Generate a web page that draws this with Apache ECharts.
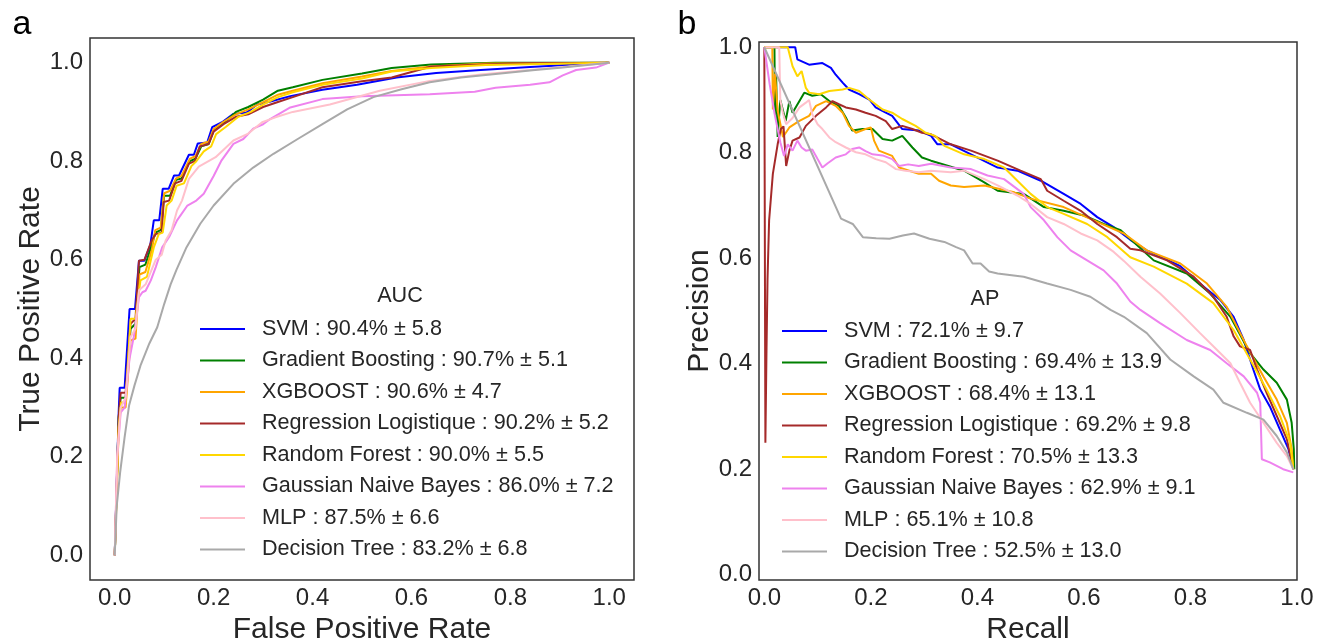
<!DOCTYPE html>
<html>
<head>
<meta charset="utf-8">
<script src="https://cdn.jsdelivr.net/npm/echarts@6/dist/echarts.min.js"></script>
<style>
  html, body { margin: 0; padding: 0; background: #fff; }
  #main { width: 1325px; height: 640px; }
</style>
</head>
<body>
<div id="main"></div>
<script>
// models, colours and scores shown in the two legends
var modelNames = ['SVM', 'Gradient Boosting', 'XGBOOST', 'Regression Logistique', 'Random Forest', 'Gaussian Naive Bayes', 'MLP', 'Decision Tree'];
var modelColors = ['#0000ff', '#008000', '#ffa500', '#a52a2a', '#ffd700', '#ee82ee', '#ffc0cb', '#a9a9a9'];
var aucMean = [90.4, 90.7, 90.6, 90.2, 90.0, 86.0, 87.5, 83.2];
var aucStd = [5.8, 5.1, 4.7, 5.2, 5.5, 7.2, 6.6, 6.8];
var apMean = [72.1, 69.4, 68.4, 69.2, 70.5, 62.9, 65.1, 52.5];
var apStd = [9.7, 13.9, 13.1, 9.8, 13.3, 9.1, 10.8, 13.0];
var tickValues = [0, 0.2, 0.4, 0.6, 0.8, 1.0];

// ROC curves : [false positive rate, true positive rate]
var rocSvm = [[0,0],[0.008,0.29],[0.01,0.34],[0.02,0.34],[0.03,0.5],[0.041,0.5],[0.049,0.598],[0.06,0.598],[0.072,0.63],[0.079,0.68],[0.09,0.68],[0.097,0.744],[0.109,0.744],[0.12,0.771],[0.13,0.771],[0.15,0.813],[0.16,0.813],[0.168,0.836],[0.187,0.838],[0.197,0.869],[0.217,0.879],[0.24,0.896],[0.267,0.899],[0.288,0.915],[0.315,0.921],[0.355,0.932],[0.42,0.945],[0.49,0.955],[0.57,0.97],[0.65,0.979],[0.74,0.985],[0.84,0.991],[1,1]];
var rocGb = [[0,0],[0.008,0.28],[0.012,0.32],[0.022,0.32],[0.032,0.46],[0.042,0.47],[0.05,0.585],[0.062,0.59],[0.075,0.63],[0.082,0.655],[0.093,0.66],[0.1,0.73],[0.112,0.73],[0.124,0.762],[0.135,0.765],[0.152,0.8],[0.163,0.805],[0.175,0.83],[0.19,0.835],[0.2,0.862],[0.22,0.877],[0.245,0.9],[0.27,0.91],[0.3,0.925],[0.33,0.943],[0.36,0.95],[0.42,0.965],[0.5,0.978],[0.56,0.989],[0.64,0.996],[0.77,1],[1,1]];
var rocXgb = [[0,0],[0.008,0.26],[0.012,0.3],[0.022,0.3],[0.032,0.436],[0.042,0.44],[0.05,0.57],[0.062,0.575],[0.075,0.62],[0.082,0.66],[0.093,0.665],[0.1,0.735],[0.112,0.74],[0.124,0.765],[0.135,0.77],[0.152,0.805],[0.163,0.81],[0.175,0.835],[0.19,0.84],[0.2,0.865],[0.22,0.88],[0.245,0.895],[0.27,0.905],[0.3,0.92],[0.33,0.935],[0.36,0.943],[0.42,0.958],[0.5,0.972],[0.56,0.983],[0.64,0.992],[0.75,0.998],[1,1]];
var rocRl = [[0,0],[0.008,0.28],[0.012,0.33],[0.022,0.33],[0.032,0.47],[0.042,0.48],[0.049,0.598],[0.06,0.6],[0.075,0.64],[0.083,0.652],[0.095,0.655],[0.099,0.717],[0.11,0.72],[0.122,0.755],[0.135,0.76],[0.15,0.795],[0.162,0.8],[0.172,0.83],[0.19,0.835],[0.2,0.86],[0.22,0.875],[0.245,0.89],[0.27,0.895],[0.3,0.91],[0.33,0.92],[0.36,0.93],[0.42,0.95],[0.5,0.962],[0.56,0.97],[0.64,0.992],[0.8,0.998],[1,1]];
var rocRf = [[0,0],[0.008,0.26],[0.013,0.31],[0.022,0.31],[0.032,0.48],[0.042,0.48],[0.052,0.558],[0.065,0.565],[0.079,0.625],[0.089,0.652],[0.097,0.655],[0.105,0.71],[0.115,0.72],[0.125,0.75],[0.14,0.755],[0.155,0.79],[0.165,0.8],[0.18,0.82],[0.195,0.83],[0.205,0.855],[0.225,0.87],[0.25,0.89],[0.275,0.9],[0.3,0.915],[0.33,0.93],[0.36,0.94],[0.42,0.955],[0.5,0.968],[0.56,0.982],[0.64,0.989],[0.75,0.995],[1,1]];
var rocGnb = [[0,0],[0.005,0.2],[0.012,0.29],[0.02,0.3],[0.03,0.4],[0.039,0.446],[0.049,0.524],[0.056,0.534],[0.0625,0.537],[0.073,0.558],[0.083,0.585],[0.096,0.625],[0.11,0.646],[0.126,0.68],[0.147,0.71],[0.165,0.72],[0.18,0.734],[0.2,0.77],[0.215,0.8],[0.24,0.835],[0.26,0.845],[0.28,0.866],[0.3,0.875],[0.315,0.886],[0.355,0.909],[0.42,0.926],[0.5,0.932],[0.637,0.936],[0.728,0.941],[0.77,0.949],[0.84,0.955],[0.879,0.96],[0.906,0.974],[0.933,0.985],[0.973,0.99],[1,1]];
var rocMlp = [[0,0],[0.005,0.2],[0.012,0.3],[0.022,0.32],[0.032,0.443],[0.042,0.46],[0.049,0.538],[0.0625,0.55],[0.083,0.6],[0.095,0.61],[0.103,0.639],[0.115,0.66],[0.126,0.7],[0.136,0.72],[0.15,0.764],[0.17,0.789],[0.204,0.808],[0.24,0.842],[0.27,0.856],[0.298,0.879],[0.325,0.889],[0.36,0.9],[0.435,0.915],[0.536,0.943],[0.637,0.963],[0.74,0.976],[0.839,0.985],[1,1]];
var rocDt = [[0,0],[0.004,0.1],[0.011,0.169],[0.02,0.24],[0.029,0.304],[0.04,0.345],[0.052,0.385],[0.07,0.43],[0.086,0.463],[0.1,0.51],[0.113,0.55],[0.125,0.58],[0.145,0.625],[0.173,0.673],[0.2,0.71],[0.24,0.754],[0.28,0.787],[0.321,0.815],[0.37,0.845],[0.42,0.875],[0.47,0.905],[0.523,0.93],[0.58,0.946],[0.637,0.96],[0.7,0.97],[0.77,0.977],[0.85,0.985],[0.906,0.99],[1,1]];

// precision-recall curves : [recall, precision]
var prSvm = [[0,1],[0.058,1],[0.062,0.977],[0.084,0.967],[0.109,0.97],[0.125,0.961],[0.134,0.948],[0.147,0.933],[0.159,0.92],[0.178,0.911],[0.197,0.901],[0.209,0.886],[0.228,0.876],[0.24,0.87],[0.259,0.845],[0.29,0.842],[0.313,0.832],[0.325,0.816],[0.35,0.816],[0.388,0.797],[0.438,0.772],[0.475,0.766],[0.519,0.747],[0.562,0.722],[0.594,0.703],[0.625,0.678],[0.656,0.659],[0.687,0.635],[0.718,0.615],[0.75,0.6],[0.781,0.585],[0.825,0.546],[0.856,0.521],[0.881,0.489],[0.9,0.445],[0.918,0.389],[0.931,0.351],[0.949,0.319],[0.968,0.275],[0.984,0.238],[0.993,0.2]];
var prGb = [[0,1],[0.019,1],[0.02,0.87],[0.022,0.95],[0.025,0.83],[0.03,0.9],[0.04,0.86],[0.047,0.898],[0.053,0.876],[0.075,0.914],[0.09,0.908],[0.106,0.911],[0.122,0.898],[0.14,0.889],[0.153,0.867],[0.165,0.842],[0.184,0.845],[0.203,0.845],[0.222,0.826],[0.24,0.823],[0.259,0.832],[0.278,0.81],[0.296,0.791],[0.313,0.785],[0.375,0.766],[0.413,0.744],[0.438,0.728],[0.487,0.722],[0.525,0.697],[0.562,0.69],[0.6,0.681],[0.637,0.665],[0.669,0.653],[0.731,0.596],[0.793,0.571],[0.837,0.533],[0.875,0.489],[0.912,0.42],[0.937,0.389],[0.962,0.364],[0.981,0.332],[0.99,0.288],[0.994,0.238],[0.995,0.2]];
var prXgb = [[0,1],[0.015,1],[0.016,0.882],[0.02,0.95],[0.025,0.88],[0.035,0.83],[0.047,0.848],[0.065,0.86],[0.084,0.87],[0.097,0.889],[0.116,0.898],[0.134,0.889],[0.147,0.876],[0.159,0.851],[0.172,0.838],[0.19,0.845],[0.2,0.848],[0.206,0.823],[0.215,0.804],[0.24,0.794],[0.253,0.772],[0.272,0.766],[0.29,0.76],[0.313,0.76],[0.328,0.747],[0.35,0.738],[0.375,0.735],[0.413,0.738],[0.469,0.725],[0.5,0.713],[0.562,0.697],[0.625,0.669],[0.675,0.647],[0.718,0.615],[0.781,0.59],[0.831,0.552],[0.868,0.508],[0.906,0.433],[0.937,0.376],[0.962,0.332],[0.981,0.288],[0.99,0.238],[0.993,0.2]];
var prRl = [[0,1],[0.002,1],[0.002,0.25],[0.004,0.42],[0.006,0.56],[0.009,0.672],[0.016,0.76],[0.025,0.816],[0.031,0.845],[0.036,0.85],[0.041,0.775],[0.047,0.804],[0.053,0.823],[0.066,0.829],[0.078,0.851],[0.097,0.87],[0.116,0.886],[0.128,0.898],[0.14,0.892],[0.153,0.886],[0.172,0.882],[0.19,0.876],[0.209,0.87],[0.228,0.86],[0.24,0.845],[0.259,0.851],[0.278,0.845],[0.296,0.838],[0.313,0.835],[0.35,0.816],[0.388,0.804],[0.438,0.785],[0.481,0.766],[0.519,0.75],[0.531,0.728],[0.562,0.709],[0.594,0.69],[0.625,0.665],[0.662,0.64],[0.687,0.618],[0.706,0.615],[0.756,0.596],[0.806,0.565],[0.843,0.527],[0.868,0.489],[0.881,0.452],[0.893,0.433],[0.912,0.426],[0.925,0.389],[0.943,0.345],[0.962,0.301],[0.981,0.257],[0.99,0.213],[0.993,0.2]];
var prRf = [[0,1],[0.044,1],[0.053,0.964],[0.062,0.945],[0.07,0.955],[0.078,0.923],[0.084,0.914],[0.103,0.911],[0.122,0.917],[0.147,0.92],[0.159,0.923],[0.178,0.917],[0.197,0.901],[0.209,0.892],[0.222,0.882],[0.24,0.876],[0.259,0.864],[0.284,0.851],[0.303,0.838],[0.321,0.832],[0.338,0.813],[0.375,0.797],[0.413,0.788],[0.45,0.772],[0.475,0.747],[0.5,0.722],[0.531,0.697],[0.562,0.684],[0.606,0.665],[0.644,0.64],[0.687,0.602],[0.731,0.584],[0.793,0.552],[0.843,0.515],[0.881,0.464],[0.912,0.408],[0.943,0.351],[0.968,0.301],[0.987,0.25],[0.993,0.2]];
var prGnb = [[0,1],[0.01,0.93],[0.02,0.87],[0.03,0.82],[0.037,0.794],[0.044,0.816],[0.053,0.804],[0.062,0.823],[0.07,0.81],[0.078,0.804],[0.09,0.806],[0.1,0.788],[0.109,0.772],[0.119,0.78],[0.134,0.791],[0.153,0.797],[0.165,0.807],[0.178,0.81],[0.19,0.803],[0.203,0.797],[0.222,0.795],[0.24,0.788],[0.253,0.775],[0.27,0.778],[0.29,0.775],[0.313,0.779],[0.35,0.772],[0.388,0.769],[0.419,0.757],[0.45,0.75],[0.487,0.722],[0.5,0.697],[0.525,0.672],[0.55,0.64],[0.575,0.615],[0.606,0.596],[0.637,0.577],[0.662,0.552],[0.687,0.518],[0.706,0.502],[0.743,0.477],[0.793,0.445],[0.837,0.426],[0.868,0.401],[0.9,0.376],[0.925,0.345],[0.931,0.326],[0.934,0.219],[0.949,0.213],[0.974,0.2],[0.993,0.194]];
var prMlp = [[0,1],[0.028,1],[0.03,0.9],[0.035,0.875],[0.041,0.854],[0.053,0.866],[0.066,0.886],[0.078,0.895],[0.084,0.9],[0.09,0.873],[0.1,0.854],[0.109,0.845],[0.122,0.829],[0.134,0.82],[0.153,0.81],[0.172,0.801],[0.19,0.797],[0.209,0.788],[0.228,0.782],[0.247,0.769],[0.265,0.766],[0.29,0.763],[0.313,0.766],[0.35,0.763],[0.375,0.766],[0.413,0.75],[0.438,0.738],[0.475,0.719],[0.5,0.703],[0.531,0.678],[0.562,0.665],[0.594,0.647],[0.625,0.634],[0.656,0.612],[0.675,0.595],[0.706,0.565],[0.743,0.533],[0.781,0.496],[0.818,0.458],[0.85,0.426],[0.875,0.401],[0.893,0.364],[0.912,0.326],[0.937,0.288],[0.962,0.25],[0.981,0.225],[0.993,0.2]];
var prDt = [[0,1],[0.144,0.675],[0.166,0.665],[0.185,0.64],[0.21,0.638],[0.235,0.637],[0.26,0.643],[0.281,0.647],[0.31,0.637],[0.338,0.631],[0.36,0.621],[0.375,0.615],[0.391,0.59],[0.406,0.59],[0.422,0.575],[0.438,0.571],[0.487,0.565],[0.531,0.552],[0.575,0.54],[0.612,0.527],[0.65,0.502],[0.675,0.489],[0.718,0.458],[0.762,0.408],[0.806,0.376],[0.843,0.351],[0.862,0.326],[0.906,0.307],[0.937,0.294],[0.962,0.263],[0.981,0.232],[0.993,0.2]];

var rocCurves = [rocSvm, rocGb, rocXgb, rocRl, rocRf, rocGnb, rocMlp, rocDt];
var prCurves = [prSvm, prGb, prXgb, prRl, prRf, prGnb, prMlp, prDt];

var FONT = '"Liberation Sans", Arial, sans-serif';
var TXT = '#262626';

function label(i, mean, std) {
	return modelNames[i] + ' : ' + mean[i].toFixed(1) + '% \u00b1 ' + std[i].toFixed(1);
}
var namesA = modelNames.map(function (n, i) { return label(i, aucMean, aucStd); });
var namesB = modelNames.map(function (n, i) { return label(i, apMean, apStd); });

function makeAxis(grid, min, max, name, gap, isY) {
	return {
		gridIndex: grid,
		type: 'value',
		min: min,
		max: max,
		axisLine: { show: false },
		axisTick: { show: false },
		splitLine: { show: false },
		axisLabel: {
			customValues: tickValues,
			formatter: function (v) { return v.toFixed(1); },
			fontSize: 24,
			fontFamily: FONT,
			color: TXT,
			margin: isY ? 7 : 6
		},
		name: name,
		nameLocation: 'middle',
		nameGap: gap,
		nameTextStyle: { fontSize: 30, fontFamily: FONT, color: TXT }
	};
}

var series = [];
rocCurves.forEach(function (d, i) {
	series.push({
		name: namesA[i], type: 'line', xAxisIndex: 0, yAxisIndex: 0,
		data: d, showSymbol: false, symbol: 'none',
		itemStyle: { color: modelColors[i] },
		lineStyle: { color: modelColors[i], width: 2 }
	});
});
prCurves.forEach(function (d, i) {
	series.push({
		name: namesB[i], type: 'line', xAxisIndex: 1, yAxisIndex: 1,
		data: d, showSymbol: false, symbol: 'none',
		itemStyle: { color: modelColors[i] },
		lineStyle: { color: modelColors[i], width: 2 }
	});
});

function makeLegend(names, left, top) {
	return {
		data: names,
		orient: 'vertical',
		left: left,
		top: top,
		icon: 'rect',
		itemWidth: 45,
		itemHeight: 2,
		itemGap: 5.5,
		selectedMode: false,
		textStyle: { fontSize: 21.6, fontFamily: FONT, color: TXT, lineHeight: 26, padding: [0, 0, 0, 12] }
	};
}

var myChart = echarts.init(document.getElementById('main'));
var option = {
	animation: false,
	backgroundColor: '#fff',
	grid: [
		{ left: 90, top: 38, width: 544, height: 542, show: true, borderColor: '#333', borderWidth: 1.5, backgroundColor: '#fff', outerBoundsMode: 'none', containLabel: false },
		{ left: 759, top: 42, width: 538, height: 538, show: true, borderColor: '#333', borderWidth: 1.5, backgroundColor: '#fff', outerBoundsMode: 'none', containLabel: false }
	],
	xAxis: [
		makeAxis(0, -0.05, 1.05, 'False Positive Rate', 27, false),
		makeAxis(1, -0.01, 1.0, 'Recall', 27, false)
	],
	yAxis: [
		makeAxis(0, -0.05, 1.05, 'True Positive Rate', 42, true),
		makeAxis(1, -0.01, 1.01, 'Precision', 42, true)
	],
	legend: [makeLegend(namesA, 195, 311), makeLegend(namesB, 777, 313)],
	graphic: [
		{ type: 'text', x: 22, y: 25, style: { text: 'a', fontSize: 34, fontFamily: FONT, fill: '#000', align: 'center', verticalAlign: 'middle' } },
		{ type: 'text', x: 687, y: 25, style: { text: 'b', fontSize: 34, fontFamily: FONT, fill: '#000', align: 'center', verticalAlign: 'middle' } },
		{ type: 'text', x: 400, y: 296, style: { text: 'AUC', fontSize: 21.6, fontFamily: FONT, fill: TXT, align: 'center', verticalAlign: 'middle' } },
		{ type: 'text', x: 985, y: 299, style: { text: 'AP', fontSize: 21.6, fontFamily: FONT, fill: TXT, align: 'center', verticalAlign: 'middle' } }
	],
	series: series
};
myChart.setOption(option);
</script>
</body>
</html>
